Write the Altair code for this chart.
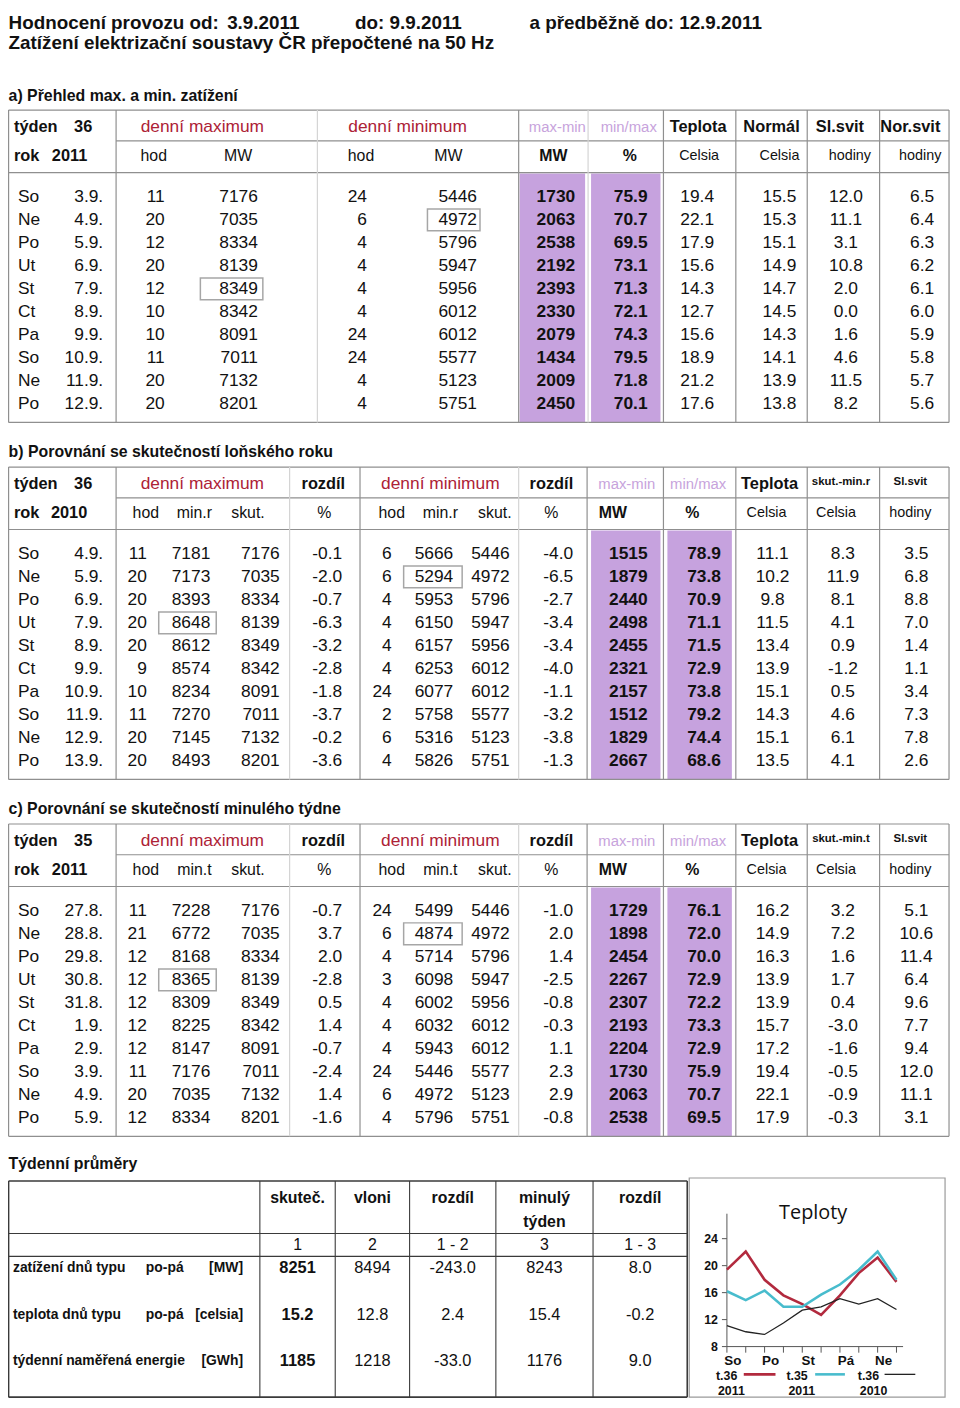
import altair as alt
import pandas as pd

# ---------------- data ----------------
week_days = ["So", "Ne", "Po", "Ut", "St", "Ct", "Pa", "So", "Ne", "Po"]
chart_days = ["So", "Ne", "Po", "Út", "St", "Čt", "Pá", "So", "Ne", "Po"]

a_dates = ["3.9.", "4.9.", "5.9.", "6.9.", "7.9.", "8.9.", "9.9.", "10.9.", "11.9.", "12.9."]
a_max_hod = [11, 20, 12, 20, 12, 10, 10, 11, 20, 20]
a_max_mw = [7176, 7035, 8334, 8139, 8349, 8342, 8091, 7011, 7132, 8201]
a_min_hod = [24, 6, 4, 4, 4, 4, 24, 24, 4, 4]
a_min_mw = [5446, 4972, 5796, 5947, 5956, 6012, 6012, 5577, 5123, 5751]
a_maxmin = [1730, 2063, 2538, 2192, 2393, 2330, 2079, 1434, 2009, 2450]
a_minmax = [75.9, 70.7, 69.5, 73.1, 71.3, 72.1, 74.3, 79.5, 71.8, 70.1]
a_teplota = [19.4, 22.1, 17.9, 15.6, 14.3, 12.7, 15.6, 18.9, 21.2, 17.6]
a_normal = [15.5, 15.3, 15.1, 14.9, 14.7, 14.5, 14.3, 14.1, 13.9, 13.8]
a_slsvit = [12.0, 11.1, 3.1, 10.8, 2.0, 0.0, 1.6, 4.6, 11.5, 8.2]
a_norsvit = [6.5, 6.4, 6.3, 6.2, 6.1, 6.0, 5.9, 5.8, 5.7, 5.6]

b_dates = ["4.9.", "5.9.", "6.9.", "7.9.", "8.9.", "9.9.", "10.9.", "11.9.", "12.9.", "13.9."]
b_max_hod = [11, 20, 20, 20, 20, 9, 10, 11, 20, 20]
b_max_ref = [7181, 7173, 8393, 8648, 8612, 8574, 8234, 7270, 7145, 8493]
b_max_act = [7176, 7035, 8334, 8139, 8349, 8342, 8091, 7011, 7132, 8201]
b_max_diff = [-0.1, -2.0, -0.7, -6.3, -3.2, -2.8, -1.8, -3.7, -0.2, -3.6]
b_min_hod = [6, 6, 4, 4, 4, 4, 24, 2, 6, 4]
b_min_ref = [5666, 5294, 5953, 6150, 6157, 6253, 6077, 5758, 5316, 5826]
b_min_act = [5446, 4972, 5796, 5947, 5956, 6012, 6012, 5577, 5123, 5751]
b_min_diff = [-4.0, -6.5, -2.7, -3.4, -3.4, -4.0, -1.1, -3.2, -3.8, -1.3]
b_maxmin = [1515, 1879, 2440, 2498, 2455, 2321, 2157, 1512, 1829, 2667]
b_minmax = [78.9, 73.8, 70.9, 71.1, 71.5, 72.9, 73.8, 79.2, 74.4, 68.6]
b_teplota = [11.1, 10.2, 9.8, 11.5, 13.4, 13.9, 15.1, 14.3, 15.1, 13.5]
b_tdiff = [8.3, 11.9, 8.1, 4.1, 0.9, -1.2, 0.5, 4.6, 6.1, 4.1]
b_slsvit = [3.5, 6.8, 8.8, 7.0, 1.4, 1.1, 3.4, 7.3, 7.8, 2.6]

c_dates = ["27.8.", "28.8.", "29.8.", "30.8.", "31.8.", "1.9.", "2.9.", "3.9.", "4.9.", "5.9."]
c_max_hod = [11, 21, 12, 12, 12, 12, 12, 11, 20, 12]
c_max_ref = [7228, 6772, 8168, 8365, 8309, 8225, 8147, 7176, 7035, 8334]
c_max_act = [7176, 7035, 8334, 8139, 8349, 8342, 8091, 7011, 7132, 8201]
c_max_diff = [-0.7, 3.7, 2.0, -2.8, 0.5, 1.4, -0.7, -2.4, 1.4, -1.6]
c_min_hod = [24, 6, 4, 3, 4, 4, 4, 24, 6, 4]
c_min_ref = [5499, 4874, 5714, 6098, 6002, 6032, 5943, 5446, 4972, 5796]
c_min_act = [5446, 4972, 5796, 5947, 5956, 6012, 6012, 5577, 5123, 5751]
c_min_diff = [-1.0, 2.0, 1.4, -2.5, -0.8, -0.3, 1.1, 2.3, 2.9, -0.8]
c_maxmin = [1729, 1898, 2454, 2267, 2307, 2193, 2204, 1730, 2063, 2538]
c_minmax = [76.1, 72.0, 70.0, 72.9, 72.2, 73.3, 72.9, 75.9, 70.7, 69.5]
c_teplota = [16.2, 14.9, 16.3, 13.9, 13.9, 15.7, 17.2, 19.4, 22.1, 17.9]
c_tdiff = [3.2, 7.2, 1.6, 1.7, 0.4, -3.0, -1.6, -0.5, -0.9, -0.3]
c_slsvit = [5.1, 10.6, 11.4, 6.4, 9.6, 7.7, 9.4, 12.0, 11.1, 3.1]

avg_labels = ["zatížení dnů typu", "teplota dnů typu", "týdenní naměřená energie"]
avg_kind = ["po-pá", "po-pá", ""]
avg_units = ["[MW]", "[celsia]", "[GWh]"]
avg_decimals = [0, 1, 0]
avg_actual = [8251, 15.2, 1185]
avg_last_year = [8494, 12.8, 1218]
avg_diff_year = [-243.0, 2.4, -33.0]
avg_last_week = [8243, 15.4, 1176]
avg_diff_week = [8.0, -0.2, 9.0]

temp_series = ["t.36 2011", "t.35 2011", "t.36 2010"]
temp_values = [a_teplota, c_teplota, b_teplota]
temp_ticks = [8, 12, 16, 20, 24]

# ---------------- layout / style ----------------
FONT = "Liberation Sans, Arial, Helvetica, sans-serif"
W, H = 952, 1400
RED = "#ad2236"
LPURPLE = "#c7a3dc"
PURPLE_BG = "#c6a2de"
GRID = "#8f8f8f"
LIGHT = "#d4d4d4"
TXT = "#111111"


def PX(x):
    # page pixel -> chart pixel (page has an 8px margin)
    return round(max(x - 8.0, 0.6), 2)


def PY(y):
    return round(max(y - 8.0, 0.6), 2)


texts, rules, fills, boxes = [], [], [], []


def T(x, y, s, align="left", bold=False, size=17.5, color=TXT):
    texts.append(dict(x=PX(x), y=PY(y), s=str(s), align=align,
                      bold=bold, size=size, color=color))


def R(x1, y1, x2, y2, color=GRID, w=1.2):
    rules.append(dict(x=PX(x1), y=PY(y1), x2=PX(x2), y2=PY(y2), c=color, w=w))


def F(x1, y1, x2, y2, color=PURPLE_BG):
    fills.append(dict(x=PX(x1), y=PY(y1), x2=PX(x2), y2=PY(y2), c=color))


def B(x1, y1, x2, y2):
    boxes.append(dict(x=PX(x1), y=PY(y1), x2=PX(x2), y2=PY(y2)))


def f1(v):
    return f"{v:.1f}"


ROW0, STEP = 192.5, 23.2

# ---- page title ----
T(5, 17, "Hodnocení provozu od:", bold=True, size=19)
T(229, 17, "3.9.2011", bold=True, size=19)
T(358, 17, "do:  9.9.2011", bold=True, size=19)
T(534, 17, "a předběžně do:  12.9.2011", bold=True, size=19)
T(5, 37, "Zatížení elektrizační soustavy ČR přepočtené na 50 Hz", bold=True, size=19)

# ---- section a ----
T(5, 91, "a) Přehled max. a min. zatížení", bold=True, size=16)
top, mid, hb, bot = 105, 136, 168, 420
F(524, hb + 1, 590, bot)
F(596, hb + 1, 666, bot)
for yy in (top, hb, bot):
    R(3, yy, 957, yy)
R(117, mid, 957, mid)
for xx in (3, 117, 523, 669, 742, 814, 887, 957):
    R(xx, top, xx, bot)
for xx in (320, 593):
    R(xx, top, xx, bot, color=LIGHT)
yh1, yh2 = 122, 151
T(14, yh1, "týden", bold=True, size=16.5)
T(93, yh1, "36", "right", True, 16.5)
T(14, yh2, "rok", bold=True, size=16.5)
T(88, yh2, "2011", "right", True, 16.5)
T(204, yh1, "denní maximum", "center", color=RED)
T(411, yh1, "denní minimum", "center", color=RED)
T(562, yh1, "max-min", "center", size=15, color=LPURPLE)
T(634, yh1, "min/max", "center", size=15, color=LPURPLE)
T(704, yh1, "Teplota", "center", True, 16.5)
T(778, yh1, "Normál", "center", True, 16.5)
T(847, yh1, "Sl.svit", "center", True, 16.5)
T(918, yh1, "Nor.svit", "center", True, 16.5)
T(155, yh2, "hod", "center", size=16)
T(240, yh2, "MW", "center", size=16)
T(364, yh2, "hod", "center", size=16)
T(452, yh2, "MW", "center", size=16)
T(558, yh2, "MW", "center", True, 16)
T(635, yh2, "%", "center", True, 16)
T(705, yh2, "Celsia", "center", size=14.5)
T(786, yh2, "Celsia", "center", size=14.5)
T(857, yh2, "hodiny", "center", size=14.5)
T(928, yh2, "hodiny", "center", size=14.5)
for i in range(10):
    y = ROW0 + i * STEP
    T(18, y, week_days[i])
    T(104, y, a_dates[i], "right")
    T(166, y, a_max_hod[i], "right")
    T(260, y, a_max_mw[i], "right")
    T(370, y, a_min_hod[i], "right")
    T(481, y, a_min_mw[i], "right")
    T(580, y, a_maxmin[i], "right", True)
    T(653, y, f1(a_minmax[i]), "right", True)
    T(703, y, f1(a_teplota[i]), "center")
    T(803, y, f1(a_normal[i]), "right")
    T(853, y, f1(a_slsvit[i]), "center")
    T(942, y, f1(a_norsvit[i]), "right")
imax = a_max_mw.index(max(a_max_mw))
imin = a_min_mw.index(min(a_min_mw))
B(202, ROW0 + imax * STEP - 11, 265, ROW0 + imax * STEP + 11)
B(431, ROW0 + imin * STEP - 11, 484, ROW0 + imin * STEP + 11)


# ---- sections b and c ----
def compare_section(off, title, week, year, refname, tdiffname, dates, max_hod,
                    max_ref, max_act, max_diff, min_hod, min_ref, min_act,
                    min_diff, maxmin, minmax, tepl, tdiff, slsvit):
    T(5, 90 + off, title, bold=True, size=16)
    top, mid, hb, bot = 105 + off, 136 + off, 168 + off, 420 + off
    F(596, hb + 1, 666, bot)
    F(673, hb + 1, 738, bot)
    for yy in (top, hb, bot):
        R(3, yy, 957, yy)
    R(117, mid, 957, mid)
    for xx in (3, 117, 363, 592, 669, 742, 814, 887, 957):
        R(xx, top, xx, bot)
    for xx in (292, 523):
        R(xx, top, xx, bot, color=LIGHT)
    y1, y2 = 122 + off, 151 + off
    T(14, y1, "týden", bold=True, size=16.5)
    T(93, y1, week, "right", True, 16.5)
    T(14, y2, "rok", bold=True, size=16.5)
    T(88, y2, year, "right", True, 16.5)
    T(204, y1, "denní maximum", "center", color=RED)
    T(326, y1, "rozdíl", "center", True, 16.5)
    T(444, y1, "denní minimum", "center", color=RED)
    T(556, y1, "rozdíl", "center", True, 16.5)
    T(632, y1, "max-min", "center", size=15, color=LPURPLE)
    T(704, y1, "min/max", "center", size=15, color=LPURPLE)
    T(776, y1, "Teplota", "center", True, 16.5)
    T(848, y1 - 2, tdiffname, "center", True, 11.5)
    T(918, y1 - 2, "Sl.svit", "center", True, 11.5)
    T(147, y2, "hod", "center", size=16)
    T(196, y2, refname, "center", size=16)
    T(250, y2, "skut.", "center", size=16)
    T(327, y2, "%", "center", size=16)
    T(395, y2, "hod", "center", size=16)
    T(444, y2, refname, "center", size=16)
    T(499, y2, "skut.", "center", size=16)
    T(556, y2, "%", "center", size=16)
    T(618, y2, "MW", "center", True, 16)
    T(698, y2, "%", "center", True, 16)
    T(773, y2, "Celsia", "center", size=14.5)
    T(843, y2, "Celsia", "center", size=14.5)
    T(918, y2, "hodiny", "center", size=14.5)
    r0 = ROW0 + off
    for i in range(10):
        y = r0 + i * STEP
        T(18, y, week_days[i])
        T(104, y, dates[i], "right")
        T(148, y, max_hod[i], "right")
        T(212, y, max_ref[i], "right")
        T(282, y, max_act[i], "right")
        T(345, y, f1(max_diff[i]), "right")
        T(395, y, min_hod[i], "right")
        T(457, y, min_ref[i], "right")
        T(514, y, min_act[i], "right")
        T(578, y, f1(min_diff[i]), "right")
        T(653, y, maxmin[i], "right", True)
        T(727, y, f1(minmax[i]), "right", True)
        T(779, y, f1(tepl[i]), "center")
        T(850, y, f1(tdiff[i]), "center")
        T(924, y, f1(slsvit[i]), "center")
    jmax = max_ref.index(max(max_ref))
    jmin = min_ref.index(min(min_ref))
    B(160, r0 + jmax * STEP - 11, 218, r0 + jmax * STEP + 11)
    B(407, r0 + jmin * STEP - 11, 466, r0 + jmin * STEP + 11)


compare_section(360, "b) Porovnání se skutečností loňského roku", "36", "2010",
                "min.r", "skut.-min.r", b_dates, b_max_hod, b_max_ref, b_max_act,
                b_max_diff, b_min_hod, b_min_ref, b_min_act, b_min_diff,
                b_maxmin, b_minmax, b_teplota, b_tdiff, b_slsvit)
compare_section(720, "c) Porovnání se skutečností minulého týdne", "35", "2011",
                "min.t", "skut.-min.t", c_dates, c_max_hod, c_max_ref, c_max_act,
                c_max_diff, c_min_hod, c_min_ref, c_min_act, c_min_diff,
                c_maxmin, c_minmax, c_teplota, c_tdiff, c_slsvit)

# ---- weekly averages table ----
T(5, 1168, "Týdenní průměry", bold=True, size=16)
tt, l1, l2, tb = 1185, 1238, 1261, 1403
DARK = "#3a3a3a"
for yy in (tt, tb):
    R(3, yy, 693, yy, color=DARK, w=1.6)
for yy in (l1, l2):
    R(3, yy, 693, yy, color=DARK, w=1.1)
for xx in (3, 693):
    R(xx, tt, xx, tb, color=DARK, w=1.6)
cols = [262, 338, 413, 500, 598, 693]
for xx in cols[:-1]:
    R(xx, tt, xx, tb, color=DARK, w=1.1)
centers = [(cols[k] + cols[k + 1]) / 2 for k in range(5)]
heads = ["skuteč.", "vloni", "rozdíl", "minulý", "rozdíl"]
for k, h in enumerate(heads):
    T(centers[k], 1202, h, "center", True, 16)
T(centers[3], 1226, "týden", "center", True, 16)
for k, h in enumerate(["1", "2", "1 - 2", "3", "1 - 3"]):
    T(centers[k], 1250, h, "center", size=16)
for r in range(3):
    y = 1273 + r * 47
    T(13, y, avg_labels[r], bold=True, size=14)
    if avg_kind[r]:
        T(147, y, avg_kind[r], bold=True, size=14)
    T(245, y, avg_units[r], "right", True, 14)
    d = avg_decimals[r]
    T(centers[0], y, f"{avg_actual[r]:.{d}f}", "center", True, 16.5)
    T(centers[1], y, f"{avg_last_year[r]:.{d}f}", "center", size=16.5)
    T(centers[2], y, f1(avg_diff_year[r]), "center", size=16.5)
    T(centers[3], y, f"{avg_last_week[r]:.{d}f}", "center", size=16.5)
    T(centers[4], y, f1(avg_diff_week[r]), "center", size=16.5)

# ---- Teploty chart frame / legend (pixel layout) ----
B2 = dict(x=PX(695), y=PY(1182), x2=PX(953), y2=PY(1403))
T(722, 1382, "t.36", bold=True, size=12.5)
T(724, 1397, "2011", bold=True, size=12.5)
T(793, 1382, "t.35", bold=True, size=12.5)
T(795, 1397, "2011", bold=True, size=12.5)
T(865, 1382, "t.36", bold=True, size=12.5)
T(867, 1397, "2010", bold=True, size=12.5)
LINE_COLORS = ["#b22a3e", "#48bccd", "#222222"]
LINE_WIDTHS = [2.6, 2.6, 1.3]
R(750, 1380, 782, 1380, LINE_COLORS[0], LINE_WIDTHS[0])
R(822, 1380, 852, 1380, LINE_COLORS[1], LINE_WIDTHS[1])
R(892, 1380, 923, 1380, LINE_COLORS[2], LINE_WIDTHS[2])

# ---------------- build chart ----------------
layers = []

df_f = pd.DataFrame(fills)
layers.append(
    alt.Chart(df_f).mark_rect().encode(
        x=alt.X("x:Q", scale=None, axis=None), x2="x2:Q",
        y=alt.Y("y:Q", scale=None, axis=None), y2="y2:Q",
        fill=alt.Fill("c:N", scale=None, legend=None)))

df_r = pd.DataFrame(rules)
layers.append(
    alt.Chart(df_r).mark_rule().encode(
        x=alt.X("x:Q", scale=None, axis=None), x2="x2:Q",
        y=alt.Y("y:Q", scale=None, axis=None), y2="y2:Q",
        color=alt.Color("c:N", scale=None, legend=None),
        strokeWidth=alt.StrokeWidth("w:Q", scale=None, legend=None)))

df_b = pd.DataFrame(boxes)
layers.append(
    alt.Chart(df_b).mark_rect(fillOpacity=0, stroke="#a6a6a6", strokeWidth=1.5).encode(
        x=alt.X("x:Q", scale=None, axis=None), x2="x2:Q",
        y=alt.Y("y:Q", scale=None, axis=None), y2="y2:Q"))

layers.append(
    alt.Chart(pd.DataFrame([B2])).mark_rect(fillOpacity=0, stroke="#9a9a9a", strokeWidth=1.2).encode(
        x=alt.X("x:Q", scale=None, axis=None), x2="x2:Q",
        y=alt.Y("y:Q", scale=None, axis=None), y2="y2:Q"))

df_t = pd.DataFrame(texts)
for al in ("left", "center", "right"):
    for bd in (False, True):
        sub = df_t[(df_t["align"] == al) & (df_t["bold"] == bd)]
        if len(sub) == 0:
            continue
        layers.append(
            alt.Chart(sub[["x", "y", "s", "size", "color"]]).mark_text(
                align=al, baseline="middle", font=FONT,
                fontWeight="bold" if bd else "normal").encode(
                x=alt.X("x:Q", scale=None, axis=None),
                y=alt.Y("y:Q", scale=None, axis=None),
                text="s:N",
                size=alt.Size("size:Q", scale=None, legend=None),
                color=alt.Color("color:N", scale=None, legend=None)))

# ---- Teploty chart through real scales ----
XS = alt.Scale(domain=[0, 9], range=[PX(733), PX(904)])
YS = alt.Scale(domain=[8, 27.7], range=[PY(1352), PY(1218)])

layers.append(
    alt.Chart(pd.DataFrame([{"s": "Teploty"}])).mark_text(
        font="Open Sans", fontSize=20, align="center", baseline="middle", color="#111").encode(
        x=alt.value(PX(820)), y=alt.value(PY(1217)), text="s:N"))

axis_df = pd.DataFrame({"i0": [0], "i1": [9.35], "lo": [8], "hi": [27.7]})
layers.append(
    alt.Chart(axis_df).mark_rule(color="#555", strokeWidth=1).encode(
        x=alt.X("i0:Q", scale=XS, axis=None), x2="i1:Q",
        y=alt.Y("lo:Q", scale=YS, axis=None)))
layers.append(
    alt.Chart(axis_df).mark_rule(color="#555", strokeWidth=1).encode(
        x=alt.X("i0:Q", scale=XS, axis=None),
        y=alt.Y("lo:Q", scale=YS, axis=None), y2="hi:Q"))

xt = pd.DataFrame({"i": list(range(10)), "lo": [8] * 10, "lo2": [7.1] * 10})
layers.append(
    alt.Chart(xt).mark_rule(color="#555", strokeWidth=1).encode(
        x=alt.X("i:Q", scale=XS, axis=None),
        y=alt.Y("lo:Q", scale=YS, axis=None), y2="lo2:Q"))

xl = pd.DataFrame({"i": list(range(0, 10, 2)), "s": chart_days[0::2]})
layers.append(
    alt.Chart(xl).mark_text(font=FONT, fontWeight="bold", fontSize=13.5, align="center",
                            baseline="middle", dx=6, color="#111").encode(
        x=alt.X("i:Q", scale=XS, axis=None), y=alt.value(PY(1367)), text="s:N"))

yt = pd.DataFrame({"v": temp_ticks, "s": [str(v) for v in temp_ticks]})
layers.append(
    alt.Chart(yt).mark_rule(color="#555", strokeWidth=1).encode(
        x=alt.value(PX(728)), x2=alt.value(PX(733)),
        y=alt.Y("v:Q", scale=YS, axis=None)))
layers.append(
    alt.Chart(yt).mark_text(font=FONT, fontWeight="bold", fontSize=12.5, align="right",
                            baseline="middle", color="#111").encode(
        x=alt.value(PX(724)), y=alt.Y("v:Q", scale=YS, axis=None), text="s:N"))

for k, name in enumerate(temp_series):
    ld = pd.DataFrame({"i": list(range(10)), "t": temp_values[k]})
    layers.append(
        alt.Chart(ld).mark_line(color=LINE_COLORS[k], strokeWidth=LINE_WIDTHS[k]).encode(
            x=alt.X("i:Q", scale=XS, axis=None),
            y=alt.Y("t:Q", scale=YS, axis=None)))

chart = alt.layer(*layers).properties(
    width=W, height=H, padding=0, background="white",
    autosize=alt.AutoSizeParams(type="none"),
).configure_view(strokeWidth=0)

chart.save("out.html", embed_options={"renderer": "svg", "actions": False})
